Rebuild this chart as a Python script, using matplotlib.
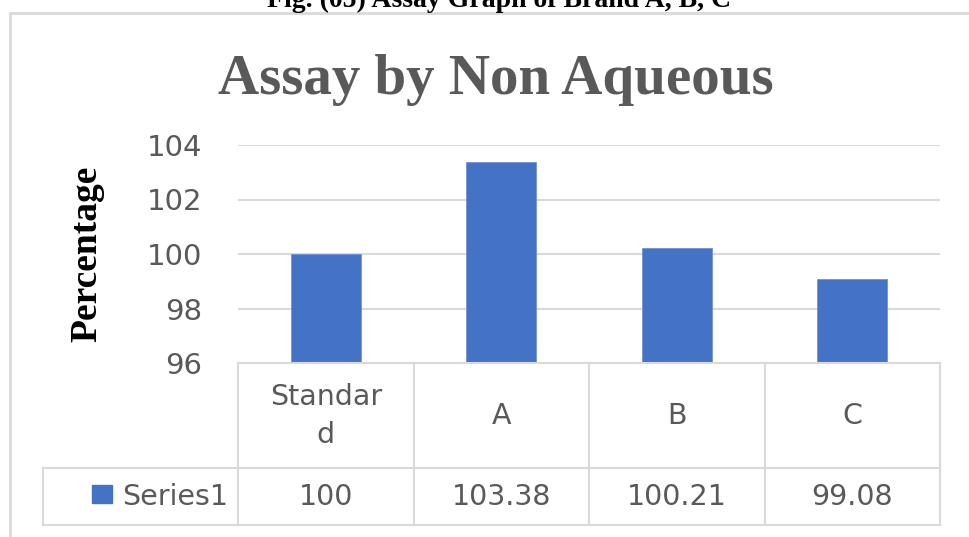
import matplotlib
matplotlib.use("Agg")
import matplotlib.pyplot as plt
from matplotlib.patches import Rectangle
from matplotlib.lines import Line2D

categories = ["Standard", "A", "B", "C"]
category_labels = ["Standar\nd", "A", "B", "C"]
values = [100, 103.38, 100.21, 99.08]
series_name = "Series1"
yticks = [96, 98, 100, 102, 104]
title = "Assay by Non Aqueous"
ylabel = "Percentage"
caption = "Fig. (05) Assay Graph of Brand A, B, C"

W, H = 969, 537
fig = plt.figure(figsize=(W / 100, H / 100), dpi=100)
fig.patch.set_facecolor("white")

def fx(px):
    return px / W

def fy(py):
    return 1 - py / H

GRAY = "#595959"
LINE = "#d9d9d9"
BLUE = "#4472C4"
SANS = "DejaVu Sans"
SERIF = "Liberation Serif"

# chart frame
fig.add_artist(Rectangle((fx(10), fy(545)), fx(975) - fx(10), fy(13) - fy(545),
                         transform=fig.transFigure, fill=False, edgecolor=LINE, lw=2))

# caption (cut at top, as in the reference)
fig.text(fx(499), fy(7), caption, ha="center", va="baseline", fontsize=20,
         fontweight="bold", family=SERIF, color="black")

left, right, top, bottom = 238, 940, 145, 363
ax = fig.add_axes([fx(left), fy(bottom), fx(right) - fx(left), fy(top) - fy(bottom)])
x = list(range(len(categories)))
ax.bar(x, [v - yticks[0] for v in values], bottom=yticks[0], width=0.4, color=BLUE,
       edgecolor="#6f93d6", linewidth=0.6, zorder=3)
ax.set_xlim(-0.5, len(categories) - 0.5)
ax.set_ylim(yticks[0], yticks[-1])
ax.set_yticks(yticks)
ax.set_yticklabels([str(t) for t in yticks], fontsize=21, family=SANS, color=GRAY)
ax.tick_params(axis="y", length=0, pad=26)
ax.set_xticks([])
for s in ax.spines.values():
    s.set_visible(False)
ax.yaxis.grid(True, color=LINE, lw=1.5, zorder=0)
ax.set_axisbelow(True)

ax.set_ylabel(ylabel, fontsize=27, fontweight="bold", family=SERIF,
              color="black", labelpad=30)

fig.text(fx(496), fy(94), title, ha="center", va="baseline", fontsize=41,
         fontweight="bold", family=SERIF, color=GRAY)

# data table
row1_top, row1_bot, row2_bot = 363, 468, 525
col_edges = [left + (right - left) * i / len(categories) for i in range(len(categories) + 1)]
table_left = 43

def hline(x0, x1, y):
    fig.add_artist(Line2D([fx(x0), fx(x1)], [fy(y), fy(y)], transform=fig.transFigure,
                          color=LINE, lw=1.5))

def vline(x, y0, y1):
    fig.add_artist(Line2D([fx(x), fx(x)], [fy(y0), fy(y1)], transform=fig.transFigure,
                          color=LINE, lw=1.5))

hline(left, right, row1_top)
hline(table_left, right, row1_bot)
hline(table_left, right, row2_bot)
for cx in col_edges:
    vline(cx, row1_top, row2_bot)
vline(table_left, row1_bot, row2_bot)

for i, (lab, v) in enumerate(zip(category_labels, values)):
    cx = (col_edges[i] + col_edges[i + 1]) / 2
    fig.text(fx(cx), fy(416), lab, ha="center", va="center",
             fontsize=20.5, family=SANS, color=GRAY, linespacing=1.45)
    fig.text(fx(cx), fy(497), f"{v:g}", ha="center", va="center",
             fontsize=20.5, family=SANS, color=GRAY)

fig.add_artist(Rectangle((fx(92), fy(503)), fx(112) - fx(92), fy(485) - fy(503),
                         transform=fig.transFigure, color=BLUE))
fig.text(fx(122), fy(497), series_name, ha="left", va="center",
         fontsize=20.5, family=SANS, color=GRAY)

fig.savefig("out.png", dpi=100)
